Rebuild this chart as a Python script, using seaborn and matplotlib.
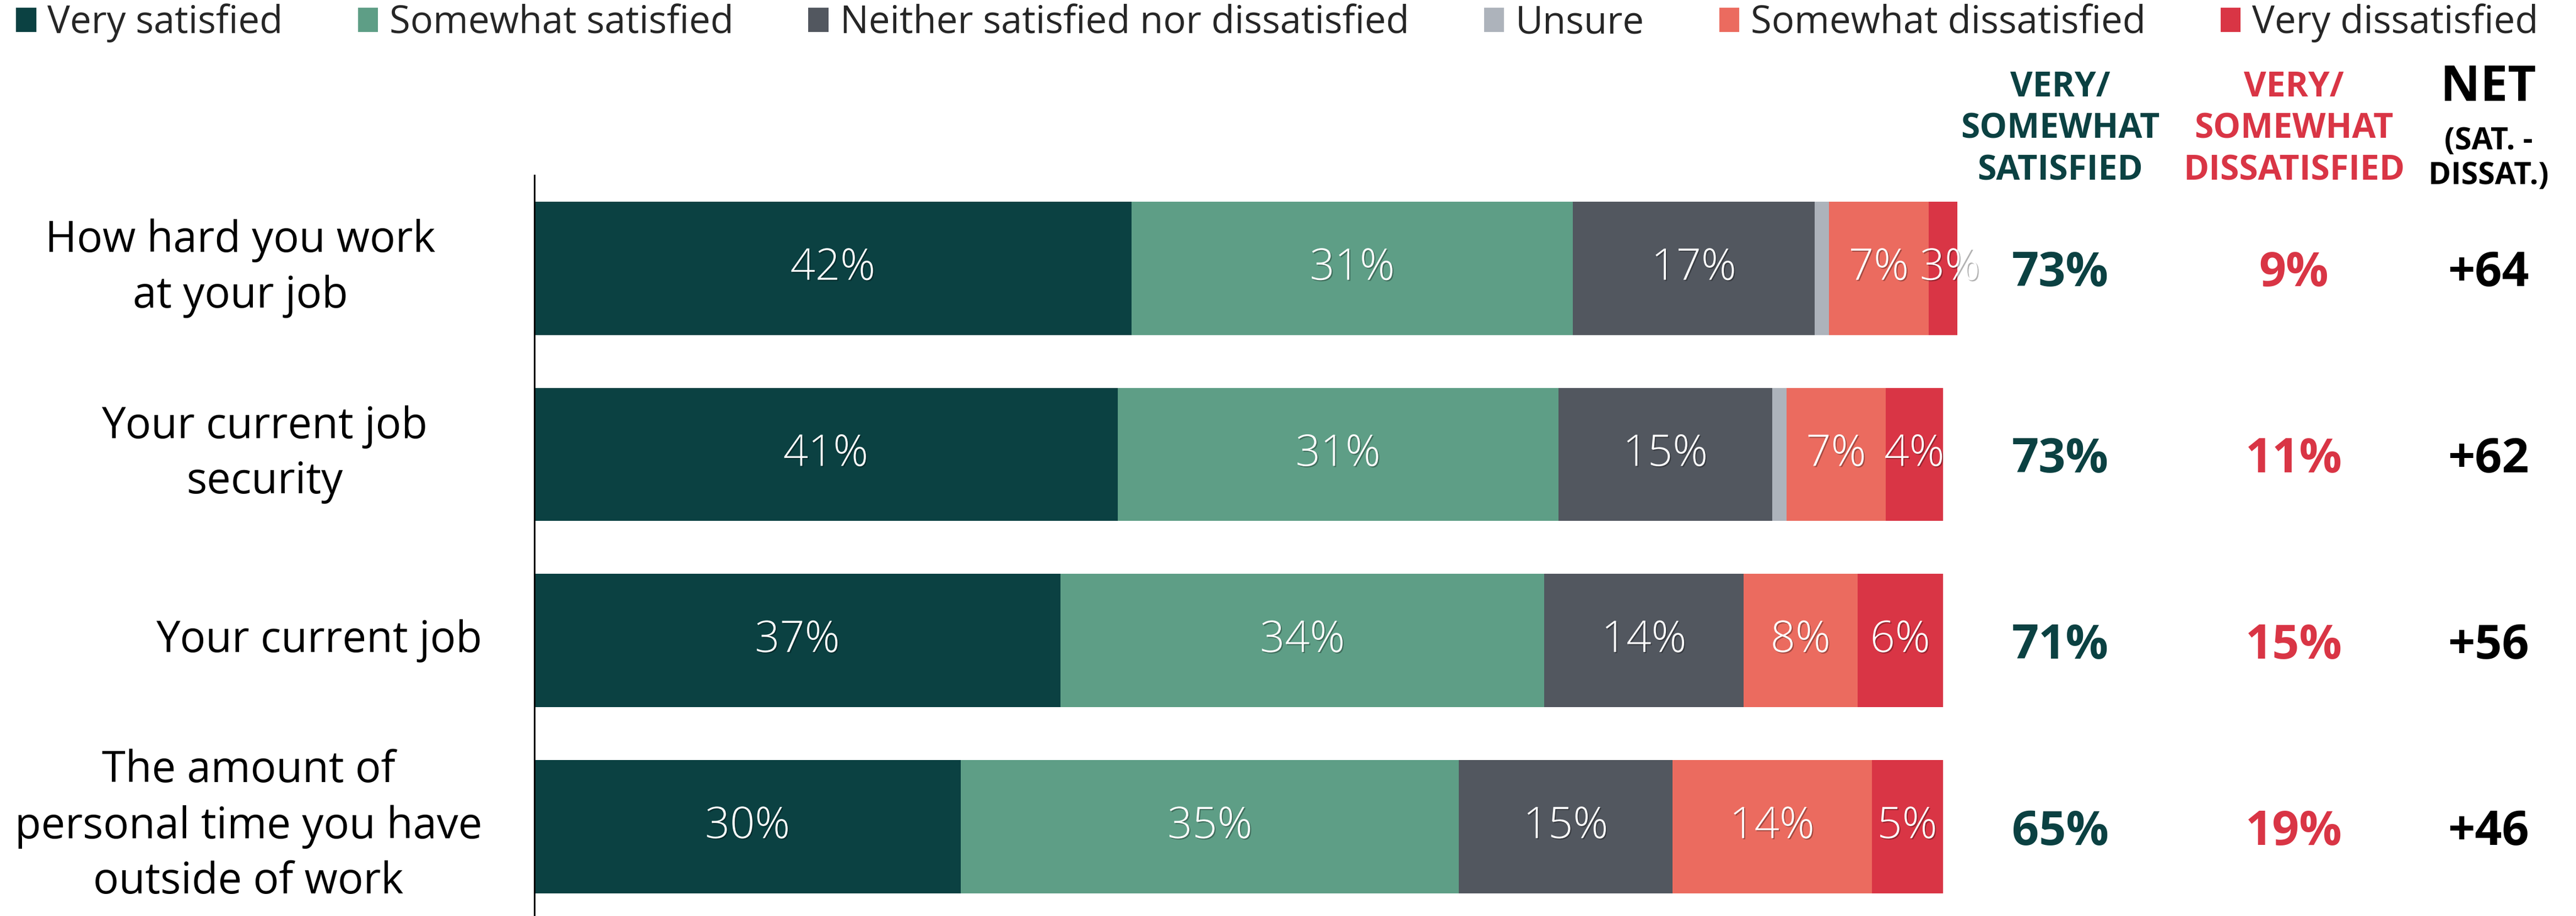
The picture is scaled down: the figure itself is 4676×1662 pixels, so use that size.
import matplotlib
matplotlib.use("Agg")
import matplotlib.pyplot as plt
import matplotlib.patheffects as pe
import matplotlib.transforms as mtransforms
from matplotlib.patches import Patch
import numpy as np
import pandas as pd
import seaborn as sns

# ---- data -------------------------------------------------------------
items = [
    "How hard you work\nat your job",
    "Your current job\nsecurity",
    "Your current job",
    "The amount of\npersonal time you have\noutside of work",
]
responses = [
    "Very satisfied",
    "Somewhat satisfied",
    "Neither satisfied nor dissatisfied",
    "Unsure",
    "Somewhat dissatisfied",
    "Very dissatisfied",
]
very_satisfied = [42, 41, 37, 30]
somewhat_satisfied = [31, 31, 34, 35]
neither = [17, 15, 14, 15]
unsure = [1, 1, 0, 0]
somewhat_dissatisfied = [7, 7, 8, 14]
very_dissatisfied = [3, 4, 6, 5]

net_satisfied = ["73%", "73%", "71%", "65%"]
net_dissatisfied = ["9%", "11%", "15%", "19%"]
net_score = ["+64", "+62", "+56", "+46"]

colors = ["#0B4142", "#5E9E86", "#52575F", "#ADB3BB", "#EB6B5F", "#D93545"]

# ---- figure -----------------------------------------------------------
sns.set_theme(style="white")
plt.rcParams["font.family"] = ["Open Sans", "DejaVu Sans"]

W, H = 4676, 1662
fig = plt.figure(figsize=(W / 100, H / 100), dpi=100)
ax = fig.add_axes([969.5 / W, 0, 2583 / W, 1344 / H])

series = [very_satisfied, somewhat_satisfied, neither, unsure,
          somewhat_dissatisfied, very_dissatisfied]
df = pd.DataFrame({name: vals for name, vals in zip(responses, series)})
df["item"] = items
cum = df[responses].cumsum(axis=1)
left = cum - df[responses]

# stacked bars: draw cumulative totals from the right-most segment back
for name, col in reversed(list(zip(responses, colors))):
    plot_df = pd.DataFrame({"item": items, "cum": cum[name]})
    sns.barplot(data=plot_df, x="cum", y="item", order=items, orient="h",
                color=col, width=0.716, linewidth=0, saturation=1, ax=ax)

# segment value labels
shadow = [pe.SimplePatchShadow(offset=(1.5, -1.5), shadow_rgbFace="black",
                               alpha=0.3), pe.Normal()]
for name in responses:
    if name == "Unsure":
        continue
    for i in range(len(items)):
        v = df.loc[i, name]
        if v <= 0:
            continue
        ax.text(left.loc[i, name] + v / 2, i, f"{v}%", ha="center",
                va="center", color="white", fontsize=57,
                fontweight="light", path_effects=shadow)

ax.set_xlim(0, 100)
ax.set_ylim(3.48, -0.5)
ax.set_xlabel("")
ax.set_ylabel("")
ax.set_xticks([])
ax.set_yticks([])
for s in ["top", "right", "bottom"]:
    ax.spines[s].set_visible(False)
ax.spines["left"].set_color("black")
ax.spines["left"].set_linewidth(2.2)

# category labels, each block centred at its own x position
label_x = [436, 480, 579, 451]
trans_lab = mtransforms.blended_transform_factory(fig.transFigure, ax.transData)
for i, txt in enumerate(items):
    fig.text(label_x[i] / W, i, txt, transform=trans_lab, ha="center",
             va="center", fontsize=56, color="black", linespacing=1.36,
             multialignment="center")

# summary columns
col_x = [3740 / W, 4164 / W, 4517 / W]
for i in range(len(items)):
    fig.text(col_x[0], i + 0.03, net_satisfied[i], transform=trans_lab,
             ha="center", va="center", fontsize=62, fontweight="bold",
             color=colors[0])
    fig.text(col_x[1], i + 0.03, net_dissatisfied[i], transform=trans_lab,
             ha="center", va="center", fontsize=62, fontweight="bold",
             color=colors[5])
    fig.text(col_x[2], i + 0.03, net_score[i], transform=trans_lab,
             ha="center", va="center", fontsize=62, fontweight="bold",
             color="black")

fig.text(col_x[0], 1 - 234 / H, "VERY/\nSOMEWHAT\nSATISFIED", ha="center",
         va="center", fontsize=45, fontweight="bold", color=colors[0],
         linespacing=1.27)
fig.text(col_x[1], 1 - 234 / H, "VERY/\nSOMEWHAT\nDISSATISFIED", ha="center",
         va="center", fontsize=45, fontweight="bold", color=colors[5],
         linespacing=1.27)
fig.text(col_x[2], 1 - 160 / H, "NET", ha="center", va="center",
         fontsize=64, fontweight="bold", color="black")
fig.text(col_x[2], 1 - 288 / H, "(SAT. -\nDISSAT.)", ha="center",
         va="center", fontsize=40, fontweight="bold", color="black",
         linespacing=1.2)

# legend across the top
handles = [Patch(facecolor=c, edgecolor="none") for c in colors]
fig.legend(handles, responses, loc="center",
           bbox_to_anchor=(0.4958, 1 - 42 / H), ncol=6, frameon=False,
           fontsize=49.5, handlelength=0.53, handleheight=0.6,
           handletextpad=0.3, columnspacing=1.98, borderaxespad=0,
           borderpad=0)

fig.savefig("out.png", dpi=100, facecolor="white")
